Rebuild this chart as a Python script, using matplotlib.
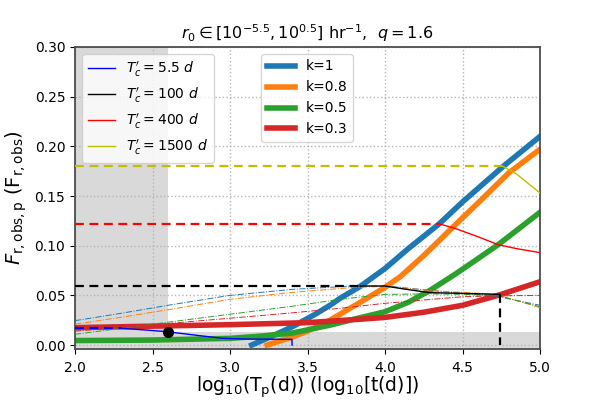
import matplotlib
matplotlib.use("Agg")
import matplotlib.pyplot as plt

# thick curves, one per k
k_labels = ["k=1", "k=0.8", "k=0.5", "k=0.3"]
k1_x = [3.14, 3.3, 3.41, 3.55, 3.645, 3.71, 3.84, 4.0, 4.15, 4.35, 4.5, 4.76, 5.0]
k1_y = [0.0, 0.011, 0.019, 0.031, 0.040, 0.047, 0.059, 0.077, 0.097, 0.122, 0.144, 0.1795, 0.210]
k08_x = [3.24, 3.4, 3.5, 3.645, 3.71, 3.84, 4.0, 4.1, 4.25, 4.44, 4.6, 4.8, 5.0]
k08_y = [0.0, 0.008, 0.014, 0.025, 0.031, 0.043, 0.058, 0.069, 0.090, 0.119, 0.143, 0.1735, 0.197]
k05_x = [2.0, 2.5, 3.0, 3.2, 3.4, 3.645, 3.8, 4.0, 4.15, 4.29, 4.45, 4.6, 4.73, 5.0]
k05_y = [0.0045, 0.005, 0.0067, 0.009, 0.012, 0.020, 0.026, 0.0335, 0.043, 0.055, 0.071, 0.087, 0.101, 0.1336]
k03_x = [2.0, 2.5, 3.0, 3.5, 3.84, 4.0, 4.25, 4.5, 4.74, 5.0]
k03_y = [0.0175, 0.019, 0.0205, 0.0225, 0.026, 0.0278, 0.033, 0.040, 0.0505, 0.0637]

# thin dash-dot curves (same colours as k)
dd0_x = [2.0, 2.3, 2.6, 3.0, 3.4, 3.8, 4.0, 4.3, 4.5, 4.72, 5.0]
dd0_y = [0.0245, 0.032, 0.040, 0.050, 0.056, 0.0595, 0.0595, 0.055, 0.052, 0.049, 0.040]
dd1_x = [2.0, 2.3, 2.6, 3.0, 3.4, 3.8, 4.0, 4.3, 4.5, 4.72, 5.0]
dd1_y = [0.021, 0.028, 0.0355, 0.046, 0.053, 0.058, 0.059, 0.0547, 0.053, 0.051, 0.0376]
dd2_x = [2.0, 2.55, 3.0, 3.4, 3.71, 4.0, 4.3, 4.5, 4.72, 5.0]
dd2_y = [0.0108, 0.022, 0.031, 0.039, 0.046, 0.051, 0.0515, 0.051, 0.050, 0.0386]
dd3_x = [2.0, 2.55, 3.0, 3.41, 3.71, 4.0, 4.5, 4.72, 5.0]
dd3_y = [0.014, 0.021, 0.027, 0.0325, 0.037, 0.042, 0.0486, 0.0495, 0.050]

# T_c' curves: flat dashed level, then solid part
tc_labels = [r"$T_c'=5.5\ d$", r"$T_c'=100\ d$", r"$T_c'=400\ d$", r"$T_c'=1500\ d$"]
tc_colors = ["b", "k", "r", "y"]
tc_level = [0.0168, 0.0594, 0.122, 0.180]
tc_break = [2.3, 3.84, 4.35, 4.76]
tc_x = [
    [2.3, 2.45, 2.6, 2.8, 2.95, 3.1, 3.4, 3.4],
    [3.84, 4.0, 4.14, 4.29, 4.5, 4.74],
    [4.35, 4.45, 4.6, 4.73, 4.85, 5.0],
    [4.76, 4.85, 5.0],
]
tc_y = [
    [0.0168, 0.0152, 0.0133, 0.0095, 0.0068, 0.006, 0.0057, 0.0],
    [0.0594, 0.0594, 0.056, 0.0527, 0.052, 0.051],
    [0.122, 0.1175, 0.109, 0.101, 0.097, 0.093],
    [0.180, 0.172, 0.153],
]
t_cut = 4.74
t_cut_y = 0.051
dot_x, dot_y = 2.6, 0.013

fig = plt.figure(figsize=(6, 4), dpi=100)
ax = fig.add_axes([0.125, 0.1275, 0.775, 0.755])

ax.axvspan(2.0, 2.6, color="0.85", lw=0, zorder=0)
ax.axhspan(-0.01, 0.0134, color="0.85", lw=0, zorder=0)
ax.grid(True, ls=":", color="0.7", lw=1, zorder=0.5)

thick = []
for i, (xx, yy) in enumerate([(k1_x, k1_y), (k08_x, k08_y), (k05_x, k05_y), (k03_x, k03_y)]):
    l, = ax.plot(xx, yy, color="C%d" % i, lw=4, label=k_labels[i], zorder=2)
    thick.append(l)

for i, (xx, yy) in enumerate([(dd0_x, dd0_y), (dd1_x, dd1_y), (dd2_x, dd2_y), (dd3_x, dd3_y)]):
    ax.plot(xx, yy, color="C%d" % i, lw=0.7, ls="-.", zorder=3)

thin = []
for i in range(4):
    ax.plot([2.0, tc_break[i]], [tc_level[i], tc_level[i]], color=tc_colors[i],
            lw=1.6, ls=(0, (4, 2.5)), zorder=3)
    l, = ax.plot(tc_x[i], tc_y[i], color=tc_colors[i], lw=1, label=tc_labels[i], zorder=3)
    thin.append(l)

ax.plot([t_cut, t_cut], [t_cut_y, 0.0], color="k", lw=1.6, ls=(0, (4, 2.5)), zorder=3)
ax.plot([dot_x], [dot_y], "ko", ms=7, zorder=4)

ax.set_xlim(2.0, 5.0)
ax.set_ylim(-0.004, 0.30)
ax.set_xticks([2.0, 2.5, 3.0, 3.5, 4.0, 4.5, 5.0])
ax.set_yticks([0.0, 0.05, 0.10, 0.15, 0.20, 0.25, 0.30])
ax.tick_params(axis="x", pad=5)
for s in ax.spines.values():
    s.set_color("0.3")
    s.set_linewidth(1.3)

ax.set_title(r"$r_0 \in [10^{-5.5}, 10^{0.5}]$ hr$^{-1}$,  $q=1.6$", fontsize=11.5)
ax.set_xlabel(r"$\rm log_{10}(T_p(d))$ $(\rm log_{10}[t(d)])$", fontsize=13.5, labelpad=0)
ax.set_ylabel(r"$F_{\rm r,obs,p}$ $(\rm F_{r,obs})$", fontsize=14)

leg1 = ax.legend(handles=thin, loc="upper left", fontsize=10)
ax.add_artist(leg1)
ax.legend(handles=thick, loc="upper left", bbox_to_anchor=(0.386, 1.0), fontsize=10)

fig.savefig("out.png", dpi=100)
